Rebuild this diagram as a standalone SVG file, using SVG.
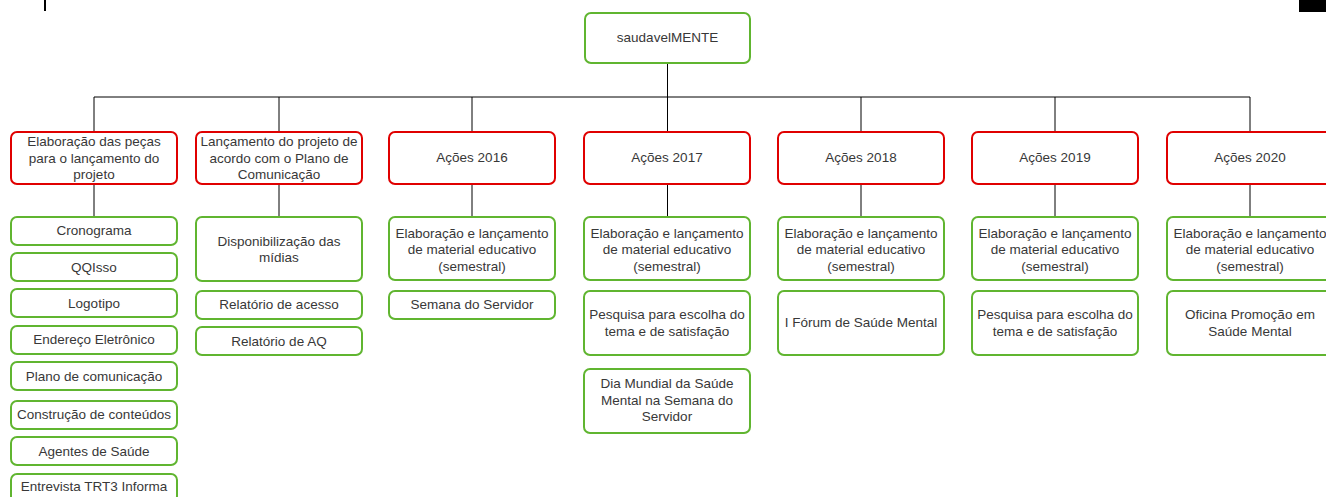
<svg xmlns="http://www.w3.org/2000/svg" width="1326" height="497" viewBox="0 0 1326 497">
<style>
text{font-family:"Liberation Sans",Arial,sans-serif;font-size:13.5px;fill:#383838;text-anchor:middle}
.g{fill:#fff;stroke:#60b530;stroke-width:2}
.r{fill:#fff;stroke:#e00000;stroke-width:2}
.c{fill:none;stroke:#000;stroke-width:1}
</style>
<rect width="1326" height="497" fill="#fff"/>
<rect x="44" y="0" width="2" height="11" fill="#000"/>
<rect x="1299" y="0" width="27" height="12" fill="#000"/>
<g id="connectors" class="c">
<path class="c" d="M667.5 63V97M94 97H1250M94 97V132M279 97V132M472 97V132M667.5 97V132M861 97V132M1055 97V132M1250 97V132"/>
<path class="c" d="M94 184V217M279 184V217M472 184V217M667.5 184V217M861 184V217M1055 184V217M1250 184V217"/>
</g>
<g id="root"><rect class="g" x="585" y="13" width="165" height="50" rx="6"/><text x="667.5" y="42">saudavelMENTE</text></g>

<g id="l1a"><rect class="r" x="11" y="132" width="166" height="52" rx="6"/><text x="94" y="146">Elaboração das peças</text><text x="94" y="162.5">para o lançamento do</text><text x="94" y="179">projeto</text></g>
<g id="l1b"><rect class="r" x="196" y="132" width="166" height="52" rx="6"/><text x="279" y="146">Lançamento do projeto de</text><text x="279" y="162.5">acordo com o Plano de</text><text x="279" y="179">Comunicação</text></g>
<g id="l1c"><rect class="r" x="389" y="132" width="166" height="52" rx="6"/><text x="472" y="162">Ações 2016</text></g>
<g id="l1d"><rect class="r" x="584" y="132" width="166" height="52" rx="6"/><text x="667" y="162">Ações 2017</text></g>
<g id="l1e"><rect class="r" x="778" y="132" width="166" height="52" rx="6"/><text x="861" y="162">Ações 2018</text></g>
<g id="l1f"><rect class="r" x="972" y="132" width="166" height="52" rx="6"/><text x="1055" y="162">Ações 2019</text></g>
<g id="l1g"><rect class="r" x="1167" y="132" width="166" height="52" rx="6"/><text x="1250" y="162">Ações 2020</text></g>

<g id="a1"><rect class="g" x="11" y="217" width="166" height="28" rx="6"/><text x="94" y="235">Cronograma</text></g>
<g id="a2"><rect class="g" x="11" y="253" width="166" height="28" rx="6"/><text x="94" y="271.5">QQIsso</text></g>
<g id="a3"><rect class="g" x="11" y="289" width="166" height="28" rx="6"/><text x="94" y="308">Logotipo</text></g>
<g id="a4"><rect class="g" x="11" y="326" width="166" height="28" rx="6"/><text x="94" y="344">Endereço Eletrônico</text></g>
<g id="a5"><rect class="g" x="11" y="362" width="166" height="28" rx="6"/><text x="94" y="380.5">Plano de comunicação</text></g>
<g id="a6"><rect class="g" x="11" y="401" width="166" height="28" rx="6"/><text x="94" y="419">Construção de conteúdos</text></g>
<g id="a7"><rect class="g" x="11" y="437" width="166" height="28" rx="6"/><text x="94" y="455.5">Agentes de Saúde</text></g>
<g id="a8"><rect class="g" x="11" y="474" width="166" height="28" rx="6"/><text x="94" y="491">Entrevista TRT3 Informa</text></g>

<g id="b1"><rect class="g" x="196" y="217" width="166" height="64" rx="6"/><text x="279" y="246">Disponibilização das</text><text x="279" y="262">mídias</text></g>
<g id="b2"><rect class="g" x="196" y="291" width="166" height="28" rx="6"/><text x="279" y="309">Relatório de acesso</text></g>
<g id="b3"><rect class="g" x="196" y="327" width="166" height="28" rx="6"/><text x="279" y="345.5">Relatório de AQ</text></g>

<g id="c1"><rect class="g" x="389" y="217" width="166" height="63" rx="6"/><text x="472" y="237.5">Elaboração e lançamento</text><text x="472" y="254">de material educativo</text><text x="472" y="270.5">(semestral)</text></g>
<g id="c2"><rect class="g" x="389" y="291" width="166" height="28" rx="6"/><text x="472" y="309">Semana do Servidor</text></g>

<g id="d1"><rect class="g" x="584" y="217" width="166" height="63" rx="6"/><text x="667" y="237.5">Elaboração e lançamento</text><text x="667" y="254">de material educativo</text><text x="667" y="270.5">(semestral)</text></g>
<g id="d2"><rect class="g" x="584" y="291" width="166" height="64" rx="6"/><text x="667" y="319">Pesquisa para escolha do</text><text x="667" y="335.5">tema e de satisfação</text></g>
<g id="d3"><rect class="g" x="584" y="369" width="166" height="64" rx="6"/><text x="667" y="388">Dia Mundial da Saúde</text><text x="667" y="404.5">Mental na Semana do</text><text x="667" y="421">Servidor</text></g>

<g id="e1"><rect class="g" x="778" y="217" width="166" height="63" rx="6"/><text x="861" y="237.5">Elaboração e lançamento</text><text x="861" y="254">de material educativo</text><text x="861" y="270.5">(semestral)</text></g>
<g id="e2"><rect class="g" x="778" y="291" width="166" height="64" rx="6"/><text x="861" y="327">I Fórum de Saúde Mental</text></g>

<g id="f1"><rect class="g" x="972" y="217" width="166" height="63" rx="6"/><text x="1055" y="237.5">Elaboração e lançamento</text><text x="1055" y="254">de material educativo</text><text x="1055" y="270.5">(semestral)</text></g>
<g id="f2"><rect class="g" x="972" y="291" width="166" height="64" rx="6"/><text x="1055" y="319">Pesquisa para escolha do</text><text x="1055" y="335.5">tema e de satisfação</text></g>

<g id="h1"><rect class="g" x="1167" y="217" width="166" height="63" rx="6"/><text x="1250" y="237.5">Elaboração e lançamento</text><text x="1250" y="254">de material educativo</text><text x="1250" y="270.5">(semestral)</text></g>
<g id="h2"><rect class="g" x="1167" y="291" width="166" height="64" rx="6"/><text x="1250" y="319">Oficina Promoção em</text><text x="1250" y="335.5">Saúde Mental</text></g>
</svg>
